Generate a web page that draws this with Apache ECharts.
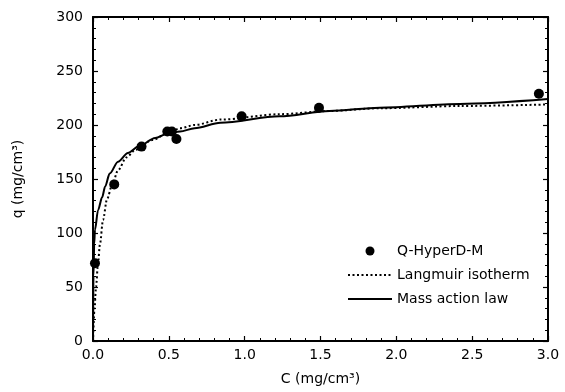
<!DOCTYPE html>
<html>
<head>
<meta charset="utf-8">
<script src="https://cdn.jsdelivr.net/npm/echarts@6/dist/echarts.min.js"></script>
<style>
  html, body { margin: 0; padding: 0; background: #fff; }
</style>
</head>
<body>
<div id="chart" style="width:565px;height:392px;"></div>
<script>
  // measured points (C, q)
  var dataC = [0.013, 0.14, 0.32, 0.49, 0.52, 0.55, 0.98, 1.49, 2.94]
  var dataQ = [72, 145, 180, 194, 194, 187, 208, 216, 229]

  // Langmuir isotherm curve
  var langC = [0, 0.01, 0.02, 0.033, 0.046, 0.066, 0.092, 0.125, 0.165, 0.22, 0.28, 0.39, 0.5, 0.574, 0.67, 0.84, 1.23, 1.56, 1.89, 2.42, 3.0]
  var langQ = [0, 30, 50, 72, 90, 112, 131, 144, 158, 170, 177, 186, 193, 197, 200, 205, 210, 213, 215.5, 217.6, 219]

  // mass action law curve
  var massC = [0, 0.003, 0.008, 0.013, 0.033, 0.06, 0.08, 0.11, 0.165, 0.23, 0.3, 0.41, 0.49, 0.574, 0.67, 0.84, 1.23, 1.56, 1.89, 2.42, 3.0]
  var massQ = [0, 60, 90, 103, 121, 133, 143, 155, 166, 174, 180, 188, 192, 194, 197, 202, 208, 213, 216, 219.5, 224]

  var xTicks = ['0.0', '0.5', '1.0', '1.5', '2.0', '2.5', '3.0']

  function pairs(xs, ys) {
    var out = []
    for (var i = 0; i < xs.length; i++) out.push([xs[i], ys[i]])
    return out
  }

  var font = '"DejaVu Sans", "Liberation Sans", Arial, sans-serif'
  var frameAxis = {
    axisLine: { show: true, onZero: false, lineStyle: { color: '#000', width: 2 } },
    axisTick: { show: true, inside: true, length: 5, lineStyle: { color: '#000', width: 1.2 } },
    minorTick: { show: true, splitNumber: 5, length: 3, lineStyle: { color: '#000', width: 1 } },
    splitLine: { show: false }
  }

  var chart = echarts.init(document.getElementById('chart'))
  var option = {
    animation: false,
    backgroundColor: '#fff',
    textStyle: { fontFamily: font, color: '#000' },
    grid: { left: 93, right: 17, top: 17, bottom: 51 },
    legend: {
      orient: 'vertical',
      left: 342,
      top: 239,
      itemWidth: 44,
      itemHeight: 9,
      itemGap: 10,
      textStyle: { fontFamily: font, fontSize: 14, color: '#000' },
      data: [
        { name: 'Q-HyperD-M', icon: 'circle' },
        { name: 'Langmuir isotherm', itemStyle: { opacity: 0 } },
        { name: 'Mass action law', itemStyle: { opacity: 0 } }
      ]
    },
    xAxis: [
      Object.assign({
        type: 'value', min: 0, max: 3, interval: 0.5, position: 'bottom',
        name: 'C (mg/cm³)', nameLocation: 'middle', nameGap: 31,
        nameTextStyle: { fontFamily: font, fontSize: 14, color: '#000' },
        axisLabel: {
          fontFamily: font, fontSize: 14, color: '#000', margin: 7,
          formatter: function (v) { return xTicks[Math.round(v / 0.5)] }
        }
      }, frameAxis),
      Object.assign({
        type: 'value', min: 0, max: 3, interval: 0.5, position: 'top',
        axisLabel: { show: false }
      }, frameAxis)
    ],
    yAxis: [
      Object.assign({
        type: 'value', min: 0, max: 300, interval: 50, position: 'left',
        name: 'q (mg/cm³)', nameLocation: 'middle', nameGap: 68,
        nameTextStyle: { fontFamily: font, fontSize: 14, color: '#000' },
        axisLabel: { fontFamily: font, fontSize: 14, color: '#000', margin: 10 }
      }, frameAxis),
      Object.assign({
        type: 'value', min: 0, max: 300, interval: 50, position: 'right',
        axisLabel: { show: false }
      }, frameAxis)
    ],
    series: [
      {
        name: 'Langmuir isotherm',
        type: 'line',
        data: pairs(langC, langQ),
        showSymbol: false,
        symbol: 'none',
        smooth: 0.3,
        smoothMonotone: 'x',
        lineStyle: { color: '#000', width: 2, type: [2, 2.5] },
        itemStyle: { color: '#000' }
      },
      {
        name: 'Mass action law',
        type: 'line',
        data: pairs(massC, massQ),
        showSymbol: false,
        symbol: 'none',
        smooth: 0.3,
        smoothMonotone: 'x',
        lineStyle: { color: '#000', width: 2 },
        itemStyle: { color: '#000' }
      },
      {
        name: 'Q-HyperD-M',
        type: 'scatter',
        data: pairs(dataC, dataQ),
        symbol: 'circle',
        symbolSize: 10,
        itemStyle: { color: '#000', opacity: 1 },
        z: 5
      }
    ]
  }
  chart.setOption(option)
</script>
</body>
</html>
